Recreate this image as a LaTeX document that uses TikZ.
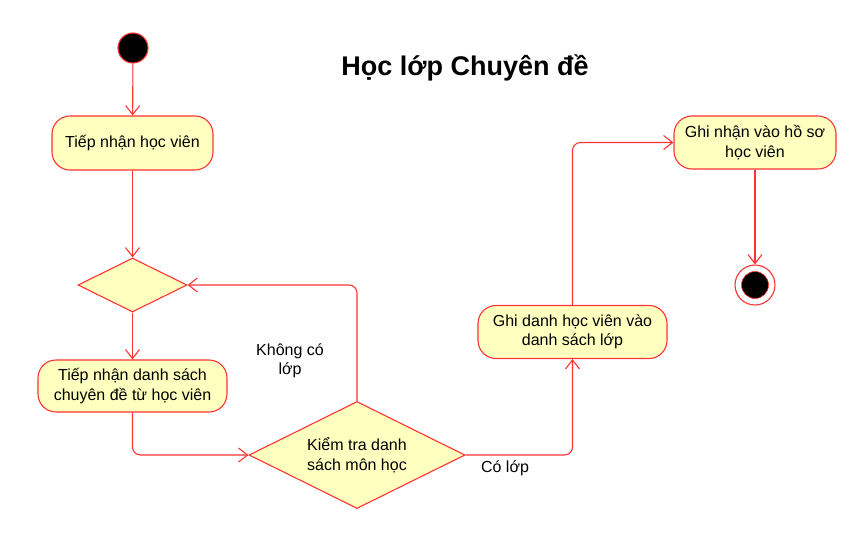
\documentclass[tikz,border=0pt]{standalone}
\usepackage{fontspec}
\setmainfont{Liberation Sans}
\usetikzlibrary{arrows.meta,shapes.geometric}
\definecolor{umlred}{HTML}{FF3333}
\definecolor{umlfill}{HTML}{FFFFC0}
\tikzset{
  act/.style={draw=umlred, fill=umlfill, line width=1.1pt, rounded corners=18pt,
    align=center, inner sep=0pt, font=\fontsize{16}{19.5}\selectfont},
  choice/.style={draw=umlred, fill=umlfill, line width=1.1pt, diamond, aspect=2,
    align=center, inner sep=0pt, font=\fontsize{16}{19.5}\selectfont},
  flow/.style={draw=umlred, line width=1.1pt, rounded corners=8pt,
    -{Straight Barb[length=9pt,width=14pt,line width=1.1pt]}},
  guard/.style={align=center, font=\fontsize{16}{19.5}\selectfont},
}
\begin{document}
\begin{tikzpicture}[x=1pt,y=-1pt]
			%%%%% START %%%%%
			\useasboundingbox (0,0) rectangle (865,550);
			
			\node[font=\fontsize{27}{32}\selectfont\bfseries] (title) at (465,68) {Học lớp Chuyên đề};
			
			\node[circle, draw=umlred, fill=black, line width=1.1pt, minimum size=30pt, inner sep=0pt] (start) at (133,48) {};
			\node[act, minimum width=161pt, minimum height=54pt] (tiepnhan) at (132.5,143) {Tiếp nhận học viên};
			\node[choice, minimum width=109pt, minimum height=54pt] (merge) at (132.5,285) {};
			\node[act, minimum width=189pt, minimum height=52pt] (danhsach) at (132.5,386) {Tiếp nhận danh sách\\chuyên đề từ học viên};
			\node[choice, minimum width=216pt, minimum height=107pt] (kiemtra) at (357,455) {Kiểm tra danh\\sách môn học};
			\node[act, minimum width=189pt, minimum height=53pt] (ghidanh) at (572.5,332) {Ghi danh học viên vào\\danh sách lớp};
			\node[act, minimum width=162pt, minimum height=53pt] (hoso) at (755,142.5) {Ghi nhận vào hồ sơ\\học viên};
			\node[circle, draw=umlred, fill=white, line width=1.1pt, minimum size=40pt, inner sep=0pt] (end) at (755,285) {};
			\fill[black, draw=umlred, line width=0.6pt] (end.center) circle (13.5pt);
			
			\draw[flow] (start) -- (tiepnhan);
			\draw[flow] (tiepnhan) -- (merge);
			\draw[flow] (merge) -- (danhsach);
			\draw[flow] (danhsach.south) |- (kiemtra.west);
			\draw[flow] (kiemtra.north) |- (merge.east);
			\draw[flow] (kiemtra.east) -| (ghidanh.south);
			\draw[flow] (ghidanh.north) |- (hoso.west);
			\draw[flow] (hoso) -- (end);
			
			\node[guard] (khongco) at (290,361) {Không có\\lớp};
			\node[guard] (colop) at (505,468) {Có lớp};
			
			%%%%% END %%%%%
\end{tikzpicture}
\end{document}
